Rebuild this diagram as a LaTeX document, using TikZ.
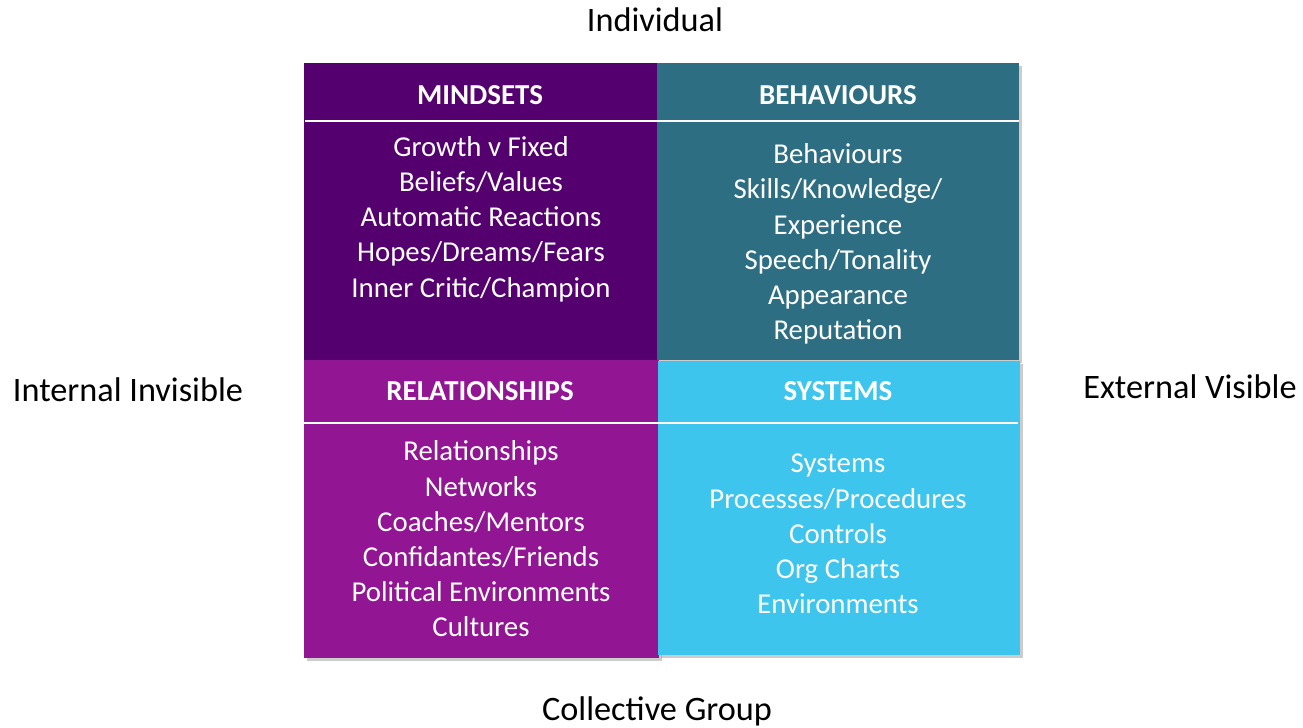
\documentclass[tikz,border=0pt]{standalone}
\usepackage{fontspec}
\setmainfont{Carlito}
\usetikzlibrary{shadows}
\definecolor{mindC}{HTML}{55006F}
\definecolor{behavC}{HTML}{2E6E82}
\definecolor{relC}{HTML}{921593}
\definecolor{sysC}{HTML}{3EC5EE}

\begin{document}
\begin{tikzpicture}[x=0.75pt,y=-0.75pt,
  quad/.style={drop shadow={shadow xshift=2pt,shadow yshift=-2pt,opacity=0.4}},
  head/.style={text=white,font=\fontsize{21.7}{26}\selectfont\bfseries},
  body/.style={text=white,align=center,font=\fontsize{21.6}{26.4}\selectfont},
  axis/.style={font=\fontsize{25.7}{30}\selectfont}]
\useasboundingbox (0,0) rectangle (1303,728);
% the four quadrants
\fill[quad,mindC] (304,63) rectangle (657,360);
\fill[quad,behavC] (657,63) rectangle (1019,360);
\fill[quad,relC] (304,360) rectangle (659,658);
\fill[quad,sysC] (658,361) rectangle (1020,655);
\draw[white,line width=1.6pt] (305,121) -- (1019,121);
\draw[white,line width=1.6pt] (304,423) -- (1018,423);
% headings
\node[head] (mindH) at (480,95) {MINDSETS};
\node[head] (behavH) at (838,95) {BEHAVIOURS};
\node[head] (relH) at (480,391) {RELATIONSHIPS};
\node[head] (sysH) at (838,391) {SYSTEMS};
% contents
\node[body] (mindB) at (481,219) {Growth v Fixed\\Beliefs/Values\\Automatic Reactions\\Hopes/Dreams/Fears\\Inner Critic/Champion};
\node[body] (behavB) at (838,244) {Behaviours\\Skills/Knowledge/\\Experience\\Speech/Tonality\\Appearance\\Reputation};
\node[body] (relB) at (481,539) {Relationships\\Networks\\Coaches/Mentors\\Confidantes/Friends\\Political Environments\\Cultures};
\node[body] (sysB) at (838,534) {Systems\\Processes/Procedures\\Controls\\Org Charts\\Environments};
% axis labels
\node[axis] (indiv) at (655,20) {Individual};
\node[axis] (coll) at (657,711) {Collective Group};
\node[axis] (intern) at (128,390) {Internal Invisible};
\node[axis] (extern) at (1190,387) {External Visible};
\end{tikzpicture}
\end{document}
